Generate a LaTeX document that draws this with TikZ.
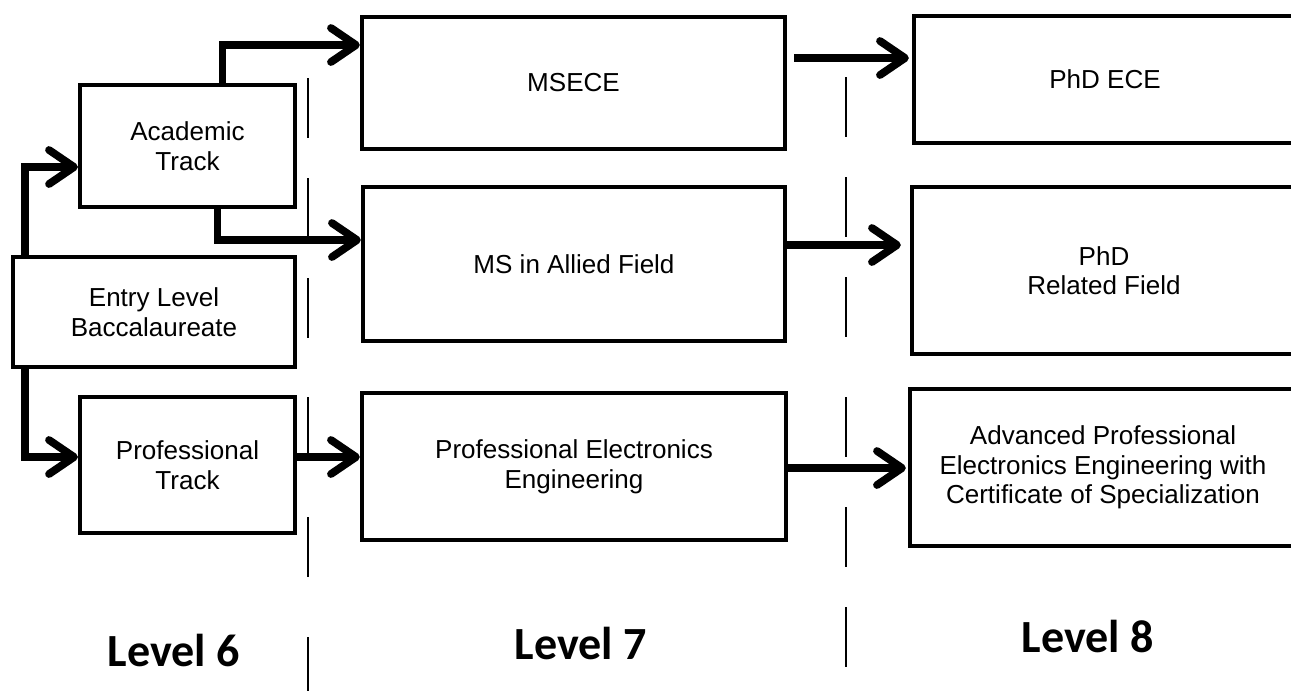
\documentclass[tikz,border=0pt]{standalone}
\usepackage{fontspec}
\setmainfont{Liberation Sans}
\newfontfamily\levelfont{Carlito}
\usetikzlibrary{arrows.meta,calc}

\begin{document}
\begin{tikzpicture}[x=0.01cm,y=-0.01cm]
\tikzstyle{stage}=[draw, line width=1.15pt, align=center, inner sep=0pt, font=\fontsize{7.4}{8.4}\selectfont]
\tikzstyle{flow}=[line width=2.2pt, -{Straight Barb[length=0.25cm,width=0.34cm,round]}]
\tikzstyle{divider}=[line width=0.6pt]
\tikzstyle{level}=[anchor=base, font=\levelfont\bfseries\fontsize{13.1}{15}\selectfont]
\useasboundingbox (0,0) rectangle (1291,690);

% level 6
\node[stage, minimum width=2.15cm, minimum height=1.22cm] (academic) at (187.5,146) {Academic\\Track};
\node[stage, minimum width=2.82cm, minimum height=1.10cm] (entry) at (154,312) {Entry Level\\Baccalaureate};
\node[stage, minimum width=2.15cm, minimum height=1.36cm] (proftrack) at (187.5,465) {Professional\\Track};
% level 7
\node[stage, minimum width=4.23cm, minimum height=1.32cm] (msece) at (573.5,83) {MSECE};
\node[stage, minimum width=4.22cm, minimum height=1.54cm] (msallied) at (574,264) {MS in Allied Field};
\node[stage, minimum width=4.24cm, minimum height=1.47cm] (profeng) at (574,466.5) {Professional Electronics\\Engineering};
% level 8
\node[stage, minimum width=3.82cm, minimum height=1.27cm] (phdece) at (1105,79.5) {PhD ECE};
\node[stage, minimum width=3.84cm, minimum height=1.67cm] (phdrel) at (1104,270.5) {PhD\\Related Field};
\node[stage, minimum width=3.86cm, minimum height=1.57cm] (advanced) at (1103,467.5) {Advanced Professional\\Electronics Engineering with\\Certificate of Specialization};

\draw[flow] ($(entry.north west)+(14,0)$) |- ($(academic.west)+(0,21)$);
\draw[flow] ($(entry.south west)+(14,0)$) |- ($(proftrack.west)+(0,-8)$);
\draw[flow] ($(academic.north)+(35,0)$) |- ($(msece.west)+(0,-38)$);
\draw[flow] ($(academic.south)+(30,0)$) |- ($(msallied.west)+(0,-24)$);
\draw[flow] ($(proftrack.east)+(0,-8)$) -- ($(profeng.west)+(0,-9.5)$);
\draw[flow] ($(msece.east)+(7,-25)$) -- ($(phdece.west)+(-3,-21.5)$);
\draw[flow] ($(msallied.east)+(0,-19)$) -- ($(phdrel.west)+(-9,-25.5)$);
\draw[flow] ($(profeng.east)+(0,1.5)$) -- ($(advanced.west)+(-2,0.5)$);

\foreach \y in {78,178,278,397,517,637}
  \draw[divider] (308,\y) -- ++(0,60);
\foreach \y in {77,177,277,397,507,607}
  \draw[divider] (846,\y) -- ++(0,60);

\node[level] (lv6) at (174,666) {Level 6};
\node[level] (lv7) at (581,659) {Level 7};
\node[level] (lv8) at (1088,652) {Level 8};
\end{tikzpicture}
\end{document}
